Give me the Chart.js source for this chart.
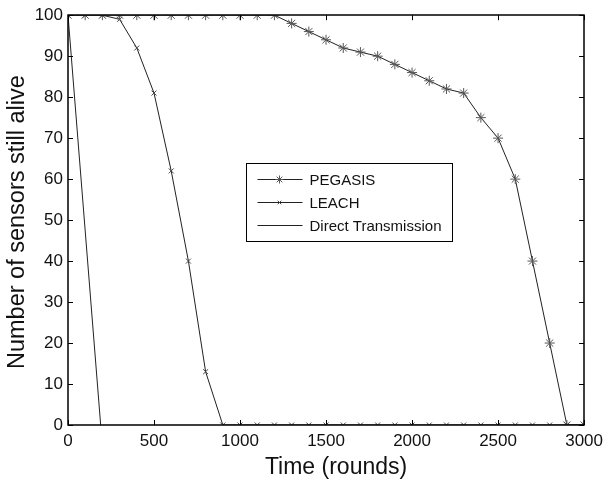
<!DOCTYPE html>
<html>
<head>
<meta charset="utf-8">
<script src="https://cdn.jsdelivr.net/npm/chart.js@4"></script>
<style>
  html, body { margin: 0; padding: 0; background: #fff; }
  #wrap { width: 609px; height: 485px; position: relative; }
</style>
</head>
<body>
<div id="wrap"><canvas id="c" width="609" height="485"></canvas></div>
<script>
// ---- Data ----
const rounds = [0,100,200,300,400,500,600,700,800,900,1000,1100,1200,1300,1400,1500,1600,1700,1800,1900,2000,2100,2200,2300,2400,2500,2600,2700,2800,2900,3000];
const pegasisAlive = [100,100,100,100,100,100,100,100,100,100,100,100,100,98,96,94,92,91,90,88,86,84,82,81,75,70,60,40,20,0,0];
const leachAlive = [100,100,100,99,92,81,62,40,13,0,0,0,0,0,0,0,0,0,0,0,0,0,0,0,0,0,0,0,0,0,0];
const directRounds = [0,190];
const directAlive = [100,0];
const seriesNames = ['PEGASIS','LEACH','Direct Transmission'];
const xTicks = [0,500,1000,1500,2000,2500,3000];
const yTicks = [0,10,20,30,40,50,60,70,80,90,100];
const xTitle = 'Time (rounds)';
const yTitle = 'Number of sensors still alive';

const toPts = (xs, ys) => xs.map((x, i) => ({x, y: ys[i]}));
const FONT = '"Liberation Sans", Arial, Helvetica, sans-serif';

const framePlugin = {
  id: 'frame',
  afterDraw(chart) {
    const ctx = chart.ctx;
    const ca = chart.chartArea;
    const xs = chart.scales.x, ys = chart.scales.y;
    ctx.save();
    ctx.strokeStyle = '#000';
    ctx.lineWidth = 1.5;
    ctx.beginPath();
    ctx.rect(Math.round(ca.left), Math.round(ca.top),
             Math.round(ca.right - ca.left), Math.round(ca.bottom - ca.top));
    ctx.stroke();
    ctx.lineWidth = 1;
    const tl = 5;
    ctx.beginPath();
    xTicks.forEach(v => {
      const px = Math.round(xs.getPixelForValue(v)) + 0.5;
      ctx.moveTo(px, ca.bottom); ctx.lineTo(px, ca.bottom - tl);
      ctx.moveTo(px, ca.top); ctx.lineTo(px, ca.top + tl);
    });
    yTicks.forEach(v => {
      const py = Math.round(ys.getPixelForValue(v)) + 0.5;
      ctx.moveTo(ca.left, py); ctx.lineTo(ca.left + tl, py);
      ctx.moveTo(ca.right, py); ctx.lineTo(ca.right - tl, py);
    });
    ctx.stroke();

    // Axis titles
    ctx.fillStyle = '#111';
    ctx.font = '23px ' + FONT;
    ctx.textAlign = 'center';
    ctx.textBaseline = 'middle';
    ctx.fillText(xTitle, (ca.left + ca.right) / 2 + 10, 468);
    ctx.save();
    ctx.translate(18, (ca.top + ca.bottom) / 2 + 2);
    ctx.rotate(-Math.PI / 2);
    ctx.font = '23.5px ' + FONT;
    ctx.fillText(yTitle, 0, 0);
    ctx.restore();

    // Legend box
    ctx.textAlign = 'left';
    const bx = Math.round(ca.left + 178) + 0.5, by = Math.round(ca.top + 148) + 0.5;
    const bw = 206, bh = 78;
    ctx.fillStyle = '#fff';
    ctx.fillRect(bx, by, bw, bh);
    ctx.strokeStyle = '#000';
    ctx.lineWidth = 1;
    ctx.strokeRect(bx, by, bw, bh);
    ctx.font = '15px ' + FONT;
    ctx.textBaseline = 'middle';
    const rowsY = [by + 15, by + 38, by + 61];
    chart.data.datasets.forEach((ds, i) => {
      const y = Math.round(rowsY[i]) + 0.5;
      ctx.strokeStyle = '#222';
      ctx.lineWidth = 1;
      ctx.beginPath();
      ctx.moveTo(bx + 11, y); ctx.lineTo(bx + 56, y);
      ctx.stroke();
      if (ds.pointRadius > 0) {
        ctx.strokeStyle = ds.pointBorderColor;
        ctx.fillStyle = 'transparent';
        ctx.lineWidth = ds.pointBorderWidth;
        Chart.helpers.drawPoint(ctx, {
          pointStyle: ds.pointStyle, radius: ds.pointRadius - 1, borderWidth: ds.pointBorderWidth, rotation: 0
        }, bx + 33, y);
      }
      ctx.fillStyle = '#111';
      ctx.fillText(ds.label, bx + 63, y + 1);
    });
    ctx.restore();
  }
};

new Chart(document.getElementById('c'), {
  type: 'scatter',
  data: {
    datasets: [
      {
        label: seriesNames[0],
        data: toPts(rounds, pegasisAlive),
        showLine: true,
        borderColor: '#222', borderWidth: 1,
        pointStyle: 'star', pointRadius: 5, pointBorderColor: '#555', pointBorderWidth: 1,
        pointBackgroundColor: 'transparent'
      },
      {
        label: seriesNames[1],
        data: toPts(rounds, leachAlive),
        showLine: true,
        borderColor: '#222', borderWidth: 1,
        pointStyle: 'crossRot', pointRadius: 3.5, pointBorderColor: '#444', pointBorderWidth: 1,
        pointBackgroundColor: 'transparent'
      },
      {
        label: seriesNames[2],
        data: toPts(directRounds, directAlive),
        showLine: true,
        borderColor: '#222', borderWidth: 1,
        pointRadius: 0, pointBorderWidth: 0, pointBorderColor: '#222'
      }
    ]
  },
  options: {
    responsive: false,
    animation: false,
    events: [],
    layout: { padding: { left: 0, top: 15, right: 22, bottom: 0 } },
    plugins: { legend: { display: false }, tooltip: { enabled: false } },
    scales: {
      x: {
        type: 'linear', min: 0, max: 3000,
        afterFit: s => { s.height = 60; },
        afterBuildTicks: s => { s.ticks = xTicks.map(v => ({value: v})); },
        grid: { display: false, drawTicks: false },
        border: { display: false },
        ticks: { color: '#111', font: { family: FONT, size: 17 }, padding: 6, maxRotation: 0, autoSkip: false,
                 callback: v => String(v) },
        title: { display: false }
      },
      y: {
        type: 'linear', min: 0, max: 100,
        afterFit: s => { s.width = 68; },
        afterBuildTicks: s => { s.ticks = yTicks.map(v => ({value: v})); },
        grid: { display: false, drawTicks: false },
        border: { display: false },
        ticks: { color: '#111', font: { family: FONT, size: 17 }, padding: 5, autoSkip: false,
                 callback: v => String(v) },
        title: { display: false }
      }
    }
  },
  plugins: [framePlugin]
});
</script>
</body>
</html>
